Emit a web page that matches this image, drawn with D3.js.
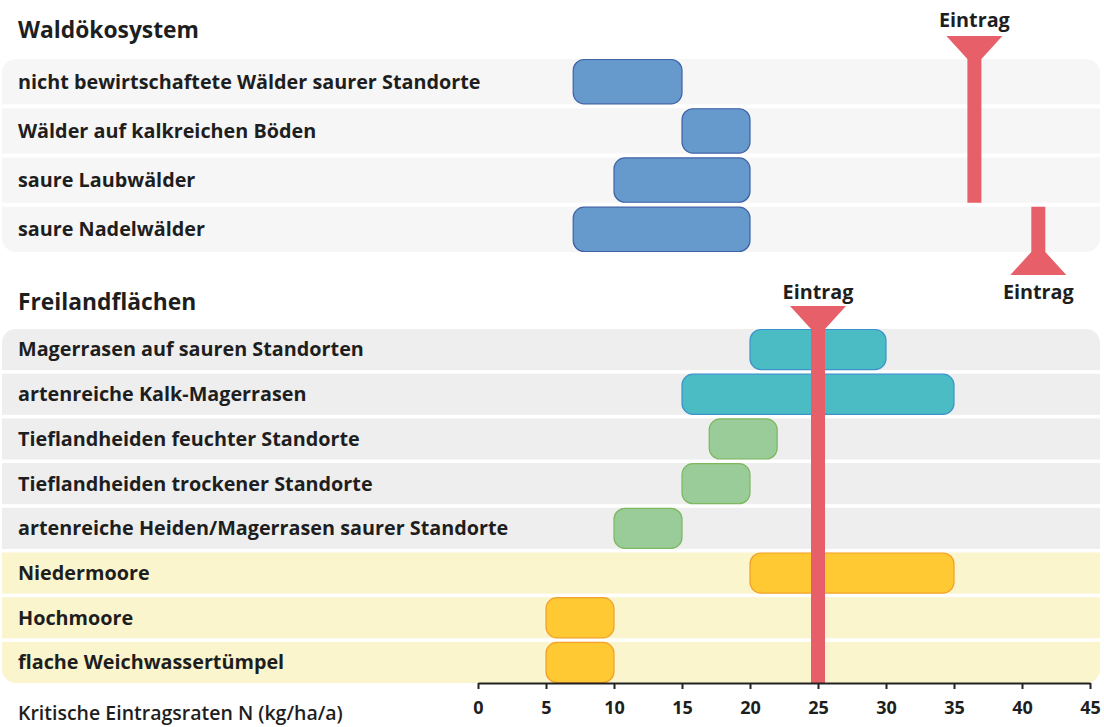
<!DOCTYPE html>
<html>
<head>
<meta charset="utf-8">
<script src="https://cdn.jsdelivr.net/npm/d3@7"></script>
<style>
  body { margin: 0; background: #fff; }
  svg { display: block; font-family: "Open Sans", "Noto Sans", sans-serif; }
  .lbl { font-size: 19.8px; font-weight: 700; fill: #1e1e1e; }
  .ttl { font-size: 22.8px; font-weight: 700; fill: #1e1e1e; }
  .axis text { font-size: 18px; font-weight: 700; fill: #1e1e1e; font-family: "Open Sans", sans-serif; }
  .axis path, .axis line { stroke: #222; stroke-width: 2px; }
</style>
</head>
<body>
<script>
// forest rows
const forestCats = ['nicht bewirtschaftete Wälder saurer Standorte', 'Wälder auf kalkreichen Böden', 'saure Laubwälder', 'saure Nadelwälder'];
const forestMin = [7, 15, 10, 7];
const forestMax = [15, 20, 20, 20];
const forestEintrag = [36.5, 41.2];

// open land rows
const openCats = ['Magerrasen auf sauren Standorten', 'artenreiche Kalk-Magerrasen', 'Tieflandheiden feuchter Standorte', 'Tieflandheiden trockener Standorte', 'artenreiche Heiden/Magerrasen saurer Standorte', 'Niedermoore', 'Hochmoore', 'flache Weichwassertümpel'];
const openMin = [20, 15, 17, 15, 10, 20, 5, 5];
const openMax = [30, 35, 22, 20, 15, 35, 10, 10];
const openGroup = ['rasen', 'rasen', 'heide', 'heide', 'heide', 'moor', 'moor', 'moor'];
const openEintrag = [25];

const xTicks = [0, 5, 10, 15, 20, 25, 30, 35, 40, 45];

const width = 1104, height = 727;
const svg = d3.select('body').append('svg').attr('width', width).attr('height', height);

const x = d3.scaleLinear().domain([0, 45]).range([478, 1090]);
const yForest = d3.scaleBand().domain(forestCats).range([59, 252]).paddingInner(0.08);
const yOpen = d3.scaleBand().domain(openCats).range([329, 683]).paddingInner(0.08);

const barFill = {wald: '#6699cc', rasen: '#4bbcc3', heide: '#99cc99', moor: '#ffc933'};
const barStroke = {wald: '#3f62a8', rasen: '#3b93cc', heide: '#7db85e', moor: '#f2a02a'};
const red = '#e75f69';

const defs = svg.append('defs');
function panel(id, y0, y1) {
  defs.append('clipPath').attr('id', id)
    .append('rect').attr('x', 2).attr('y', y0).attr('width', 1098).attr('height', y1 - y0).attr('rx', 14);
  return svg.append('g').attr('clip-path', 'url(#' + id + ')');
}

// titles
svg.append('text').attr('class', 'ttl').attr('x', 18).attr('y', 30).attr('dy', '0.35em').text('Waldökosystem');
svg.append('text').attr('class', 'ttl').attr('x', 18).attr('y', 302).attr('dy', '0.35em').text('Freilandflächen');

// forest section
const pf = panel('clipForest', 59, 252);
pf.selectAll('rect.band').data(forestCats).enter().append('rect')
  .attr('class', 'band')
  .attr('x', 0).attr('width', width)
  .attr('y', d => yForest(d)).attr('height', yForest.bandwidth())
  .attr('fill', '#f6f6f6');

svg.selectAll('text.fl').data(forestCats).enter().append('text')
  .attr('class', 'lbl fl')
  .attr('x', 18).attr('y', d => yForest(d) + yForest.bandwidth() / 2).attr('dy', '0.35em')
  .text(d => d);

svg.selectAll('rect.fbar').data(forestCats).enter().append('rect')
  .attr('class', 'fbar')
  .attr('x', (d, i) => x(forestMin[i]))
  .attr('width', (d, i) => x(forestMax[i]) - x(forestMin[i]))
  .attr('y', d => yForest(d) + 0.5).attr('height', yForest.bandwidth() - 1)
  .attr('rx', 11)
  .attr('fill', barFill.wald).attr('stroke', barStroke.wald).attr('stroke-width', 1.2);

// open land section
const po = panel('clipOpen', 329, 683);
po.selectAll('rect.band').data(openCats).enter().append('rect')
  .attr('class', 'band')
  .attr('x', 0).attr('width', width)
  .attr('y', d => yOpen(d)).attr('height', yOpen.bandwidth())
  .attr('fill', (d, i) => openGroup[i] == 'moor' ? '#faf5cc' : '#eeeeee');

svg.selectAll('text.ol').data(openCats).enter().append('text')
  .attr('class', 'lbl ol')
  .attr('x', 18).attr('y', d => yOpen(d) + yOpen.bandwidth() / 2).attr('dy', '0.35em')
  .text(d => d);

svg.selectAll('rect.obar').data(openCats).enter().append('rect')
  .attr('class', 'obar')
  .attr('x', (d, i) => x(openMin[i]))
  .attr('width', (d, i) => x(openMax[i]) - x(openMin[i]))
  .attr('y', d => yOpen(d) + 0.5).attr('height', yOpen.bandwidth() - 1)
  .attr('rx', 11)
  .attr('fill', (d, i) => barFill[openGroup[i]])
  .attr('stroke', (d, i) => barStroke[openGroup[i]]).attr('stroke-width', 1.2);

// Eintrag markers
const lw = 7, hw = 28, fh = 23;
function markerDown(v, top, bottom) {
  const c = x(v);
  return 'M' + (c - hw) + ',' + top + 'L' + (c + hw) + ',' + top +
    'L' + (c + lw) + ',' + (top + fh) + 'L' + (c + lw) + ',' + bottom +
    'L' + (c - lw) + ',' + bottom + 'L' + (c - lw) + ',' + (top + fh) + 'Z';
}
function markerUp(v, top, bottom) {
  const c = x(v);
  return 'M' + (c - lw) + ',' + top + 'L' + (c + lw) + ',' + top +
    'L' + (c + lw) + ',' + (bottom - fh) + 'L' + (c + hw) + ',' + bottom +
    'L' + (c - hw) + ',' + bottom + 'L' + (c - lw) + ',' + (bottom - fh) + 'Z';
}

const row3 = forestCats[2], row4 = forestCats[3];
svg.append('path').attr('d', markerDown(forestEintrag[0], 36, yForest(row3) + yForest.bandwidth())).attr('fill', red);
svg.append('text').attr('class', 'lbl').attr('text-anchor', 'middle')
  .attr('x', x(forestEintrag[0])).attr('y', 20).attr('dy', '0.35em').text('Eintrag');

svg.append('path').attr('d', markerUp(forestEintrag[1], yForest(row4), 275)).attr('fill', red);
svg.append('text').attr('class', 'lbl').attr('text-anchor', 'middle')
  .attr('x', x(forestEintrag[1])).attr('y', 292).attr('dy', '0.35em').text('Eintrag');

svg.append('path').attr('d', markerDown(openEintrag[0], 306, 683)).attr('fill', red);
svg.append('text').attr('class', 'lbl').attr('text-anchor', 'middle')
  .attr('x', x(openEintrag[0])).attr('y', 292).attr('dy', '0.35em').text('Eintrag');

// axis
const axis = svg.append('g').attr('class', 'axis')
  .attr('transform', 'translate(0,683)')
  .call(d3.axisBottom(x).tickValues(xTicks).tickSize(6).tickSizeOuter(0).tickPadding(12));

svg.append('text')
  .attr('x', 18).attr('y', 713).attr('dy', '0.35em')
  .style('font-size', '19.5px').style('font-weight', 600).style('fill', '#1e1e1e')
  .text('Kritische Eintragsraten N (kg/ha/a)');
</script>
</body>
</html>
